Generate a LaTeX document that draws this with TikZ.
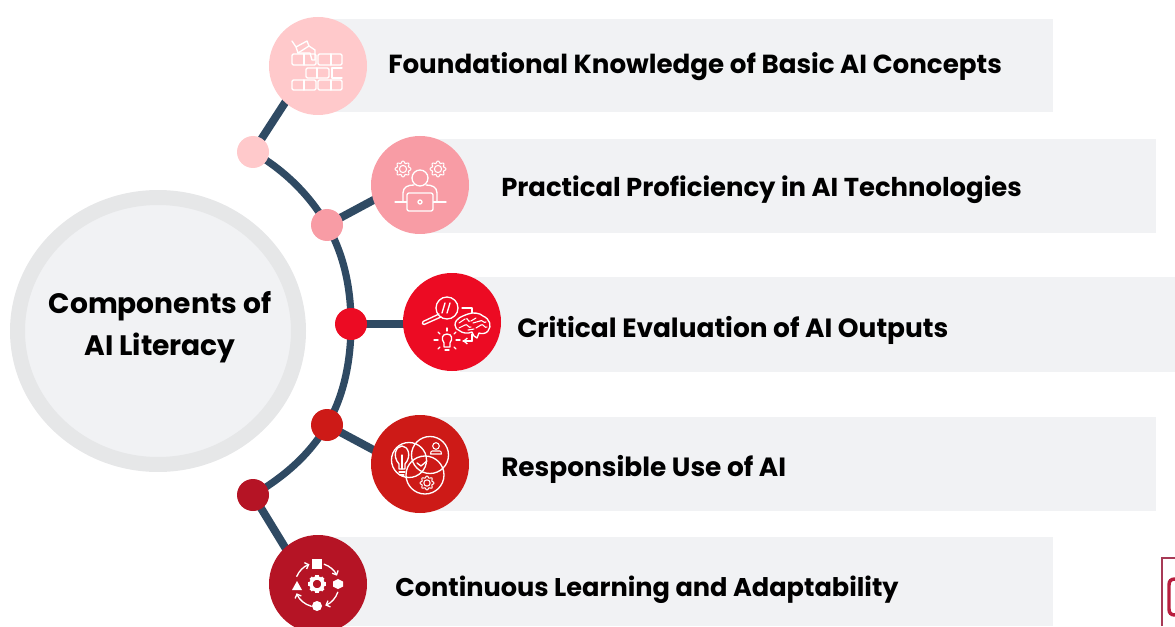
\documentclass[tikz,border=0pt]{standalone}
\usepackage{fontspec}
\setmainfont{Poppins}
\usetikzlibrary{arrows.meta,shapes.geometric,backgrounds}
\definecolor{barfill}{HTML}{F1F2F4}
\definecolor{ringc}{HTML}{E6E7E8}
\definecolor{linec}{HTML}{2F4A63}
\definecolor{ca}{HTML}{FFC9CB}
\definecolor{cb}{HTML}{F89CA5}
\definecolor{cc}{HTML}{EC0B23}
\definecolor{cd}{HTML}{CD1A17}
\definecolor{ce}{HTML}{B51425}
\definecolor{logoa}{HTML}{A73A56}
\definecolor{logob}{HTML}{B81E3E}
\newcommand{\lblsize}[1]{\fontsize{#1pt}{24pt}\selectfont\bfseries}
\tikzset{
  bar/.style={fill=barfill,draw=none},
  hub/.style={ellipse,draw=ringc,fill=barfill,line width=11.25pt,minimum width=210.75pt,minimum height=200.25pt,inner sep=0pt},
  badge/.style={circle,draw=none,minimum size=73.5pt,inner sep=0pt},
  dot/.style={circle,draw=none,minimum size=24pt,inner sep=0pt},
  spoke/.style={draw=linec,line width=6pt,shorten >=-4pt},
  curve/.style={draw=linec,line width=5.4pt,looseness=.87},
  label/.style={anchor=base west,inner sep=0pt,text=black},
  hubtext/.style={align=center,inner sep=0pt,font=\fontsize{21.1pt}{31.5pt}\selectfont\bfseries,text=black},
  ico/.style={draw=white,line width=1pt,line join=round,line cap=round},
  icofine/.style={draw=white,line width=.8pt,line join=round,line cap=round},
  sld/.style={fill=white,draw=none},
}
\newcommand{\gearline}[3]{\draw[icofine,shift={(#1,#2)}] plot[domain=0:360,samples=65] (\x:{#3*(.87+.13*cos(8*\x))}) -- cycle;
  \draw[icofine] (#1,#2) circle ({#3*.45});}
\newcommand{\brickrow}[5]{\draw[ico,rounded corners=1pt] (#1,#3) rectangle (#2,#4); \draw[ico] (#5,#3) -- (#5,#4);}
\begin{document}
\begin{tikzpicture}[x=.75pt,y=.75pt]
\useasboundingbox (0,0) rectangle (1175,626);
% hub
\node[hub] (hubring) at (158,295) {};
\node[hubtext] (hubtxt) at (160,299) {Components of\\AI Literacy};
% badges
\node[badge,fill=ca] (c1) at (318,560) {};
\node[badge,fill=cb] (c2) at (420,441) {};
\node[badge,fill=cc] (c3) at (452,304) {};
\node[badge,fill=cd] (c4) at (420,162) {};
\node[badge,fill=ce] (c5) at (318,42) {};
% dots
\node[dot,fill=ca] (d1) at (253,474) {};
\node[dot,fill=cb] (d2) at (327,401) {};
\node[dot,fill=cc] (d3) at (351,302) {};
\node[dot,fill=cd] (d4) at (327,201) {};
\node[dot,fill=ce] (d5) at (253,131) {};
% labels
\node[label,font=\lblsize{19.62}] (t1) at (388,552) {Foundational Knowledge of Basic AI Concepts};
\node[label,font=\lblsize{19.41}] (t2) at (501,429) {Practical Proficiency in AI Technologies};
\node[label,font=\lblsize{19.80}] (t3) at (517,289) {Critical Evaluation of AI Outputs};
\node[label,font=\lblsize{19.78}] (t4) at (501,150) {Responsible Use of AI};
\node[label,font=\lblsize{19.22}] (t5) at (395,30) {Continuous Learning and Adaptability};
\begin{scope}[on background layer]
  \path[bar] (330,514) rectangle (1053,607);
  \path[bar] (430,393) rectangle (1156,487);
  \path[bar] (460,254) rectangle (1175,349);
  \path[bar] (430,115) rectangle (1156,209);
  \path[bar] (330,0) rectangle (1053,89);
  \draw[curve] (d1.center) to[out=-30,in=120] (d2.center);
  \draw[curve] (d2.center) to[out=-60,in=90] (d3.center);
  \draw[curve] (d3.center) to[out=-90,in=60] (d4.center);
  \draw[curve] (d4.center) to[out=-120,in=30] (d5.center);
  \draw[spoke] (d1.center) -- (c1.228);
  \draw[spoke] (d2.center) -- (c2.198);
  \draw[spoke] (d3.center) -- (d3.center -| c3.center);
  \draw[spoke] (d4.center) -- (c4.163);
  \draw[spoke] (d5.center) -- (c5.132);
\end{scope}
% icons, in image pixel coordinates
\begin{scope}[yshift=469.5pt,yscale=-1]
  % icon 1: bricks and trowel
  \brickrow{292}{316}{54}{65}{304}
  \brickrow{318}{342}{54}{65}{331}
  \brickrow{306}{329}{68}{78}{317}
  \draw[ico] (342,68) -- (332,68) -- (332,78) -- (342,78);
  \brickrow{292}{316}{80}{90}{304}
  \brickrow{318}{342}{80}{90}{331}
  \draw[ico] (292,41) -- (296,47) -- (307,41) -- (309,46) -- (298,53) -- (296,47);
  \draw[ico] (309,46) -- (315,50) -- (315,60) -- (312,60) -- (310,53) -- (298,53);
  % icon 2: person with laptop and gears
  \gearline{403}{169}{8}
  \gearline{438}{169}{8}
  \draw[ico] (420,178) circle (8);
  \draw[ico] (403,202) -- (403,193) .. controls (403,187) and (408,185) .. (414,185);
  \draw[ico] (437,202) -- (437,193) .. controls (437,187) and (432,185) .. (426,185);
  \draw[ico] (395,202) -- (407,202);
  \draw[ico] (433,202) -- (446,202);
  \draw[ico,rounded corners=1.5pt,fill=cb] (407,193) rectangle (433,211);
  \draw[ico] (420,202) circle (2);
  % icon 3: lens, brain, bulb
  \draw[ico] (447,308) circle (11);
  \draw[ico] (445,303) -- (442,313);
  \draw[ico] (450,303) -- (447,313);
  \draw[ico,rounded corners=1pt] (439,314) -- (422,322) -- (423,325) -- (441,317);
  \draw[ico] (462,308) -- (472,308) -- (472,313);
  \draw[ico] (472,334) -- (472,341) -- (463,341);
  \draw[ico,-{Straight Barb[length=2.5pt,width=4.5pt]}] (472,341) -- (463,341);
  \draw[ico] (455,325) .. controls (455,318) and (463,316) .. (468,314)
     .. controls (473,312) and (480,313) .. (483,316)
     .. controls (490,319) and (492,326) .. (488,331)
     .. controls (486,334) and (481,334) .. (479,333)
     -- (477,338) -- (474,336) -- (472,332)
     .. controls (468,334) and (462,333) .. (460,331)
     .. controls (457,330) and (455,328) .. (455,325) -- cycle;
  \foreach \p/\q/\r/\s in {459/323/465/319,466/319/470/321,459/328/465/325,465/325/471/327,471/321/476/318,473/323/480/321,480/321/486/322,476/328/481/325,481/325/487/327,468/330/474/329}
    \draw[icofine] (\p,\q) .. controls (\p+2,\q-2) and (\r-2,\s+2) .. (\r,\s);
  \draw[ico] (444,343) .. controls (441,339) and (442,334) .. (447,334)
     .. controls (452,334) and (453,339) .. (450,343) -- (450,347) -- (444,347) -- cycle;
  \draw[ico] (445,350) -- (449,350);
  \draw[ico] (434,340) -- (438,340);
  \draw[ico] (456,340) -- (460,340);
  \draw[ico] (447,328) -- (447,331);
  \draw[ico] (438,332) -- (440,334);
  \draw[ico] (456,332) -- (454,334);
  \draw[ico] (438,349) -- (440,347);
  \draw[ico] (456,349) -- (454,347);
  % icon 4: three circles
  \draw[ico] (409,460) circle (17.5);
  \draw[ico] (430,455) circle (18.5);
  \draw[ico] (425,475) circle (19);
  \draw[ico] (399,464) .. controls (392,456) and (396,446) .. (402,446)
     .. controls (408,446) and (412,456) .. (405,464) -- (405,469) -- (399,469) -- cycle;
  \draw[icofine] (402,455) -- (402,469);
  \draw[icofine] (399,472) -- (405,472);
  \draw[icofine] (400,475) -- (404,475);
  \draw[icofine] (436,446) circle (3.3);
  \draw[icofine] (430.5,454) .. controls (430.5,450) and (433,451) .. (436,451) .. controls (439,451) and (441.5,450) .. (441.5,454) -- cycle;
  \draw[ico] (417,463) -- (421,466) -- (427,461);
  \gearline{427}{483}{7}
  % icon 5: cycle of shapes around a gear
  \path[sld] (312,559) rectangle (322,569);
  \path[sld] (338,579) -- (343,581.5) -- (343,586.5) -- (338,589) -- (333,586.5) -- (333,581.5) -- cycle;
  \path[sld] (317,606) circle (5);
  \path[sld] (297,581) -- (302,590) -- (292,590) -- cycle;
  \foreach \a in {0,45,...,315} {\draw[white,line width=2.5pt,shift={(317,584)}] (\a:5) -- (\a:9);}
  \draw[white,line width=2.6pt] (317,584) circle (6);
  \foreach \s/\e in {289/335,19/68,105/158,203/250}
    \draw[ico,-{Straight Barb[length=2.5pt,width=5pt]},shift={(317,585)}] (\s:22) arc[start angle=\s,end angle=\e,radius=22];
  % clipped box at the lower right corner
  \draw[logoa,line width=1.6pt] (1162,626) -- (1162,558) -- (1175,558);
  \draw[logob,line width=2.6pt] (1175,579) .. controls (1171,579) and (1169,581) .. (1169,585) -- (1169,609) .. controls (1169,613) and (1171,615) .. (1175,615);
\end{scope}
\end{tikzpicture}
\end{document}
